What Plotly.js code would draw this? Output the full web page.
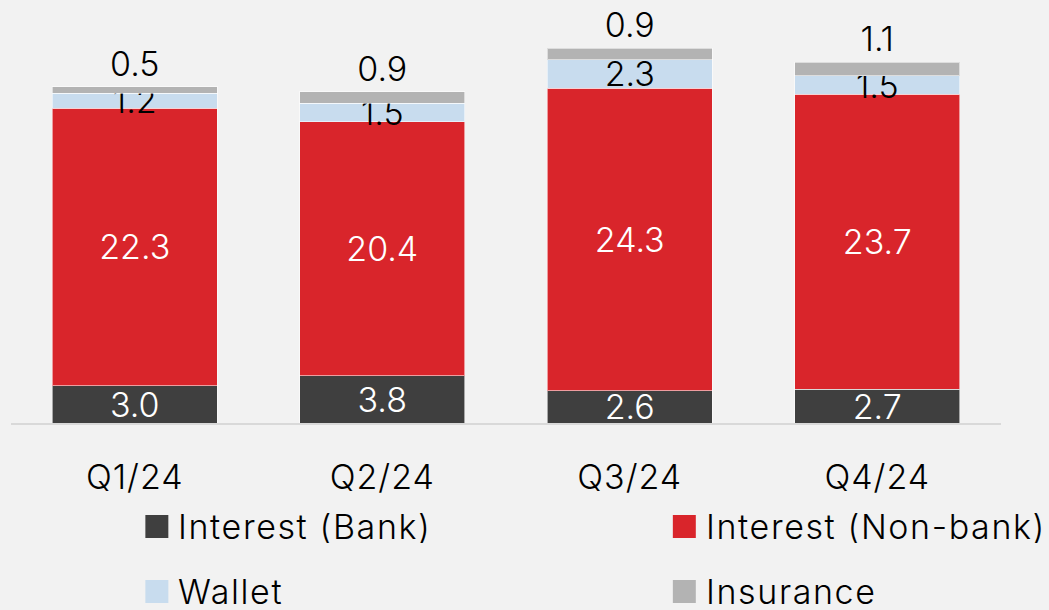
<!DOCTYPE html>
<html>
<head>
<meta charset="utf-8">
<script src="https://cdn.plot.ly/plotly-3.0.1.min.js"></script>
<style>html,body{margin:0;padding:0;background:#f2f2f2;}#chart{width:1049px;height:610px;}</style>
</head>
<body>
<div id="chart"></div>
<script>
const categories = ['Q1/24', 'Q2/24', 'Q3/24', 'Q4/24'];
const interestBank = [3.0, 3.8, 2.6, 2.7];
const interestNonBank = [22.3, 20.4, 24.3, 23.7];
const wallet = [1.2, 1.5, 2.3, 1.5];
const insurance = [0.5, 0.9, 0.9, 1.1];
const seriesNames = ['Interest (Bank)', 'Interest (Non-bank)', 'Wallet', 'Insurance'];
const seriesColors = ['#3f3f3f', '#d9252b', '#c8dcee', '#b3b3b3'];
const labelColors = ['#ffffff', '#ffffff', '#000000', '#000000'];

const FONT = 'Inter, "Open Sans", sans-serif';
const W = 1049, H = 610;
const M = {l: 10.5, r: 47.5, t: 10, b: 187};
const PW = W - M.l - M.r, PH = H - M.t - M.b;
const px2x = p => (p - M.l) / PW;
const px2y = p => (H - M.b - p) / PH;
const spaced = (s, sp) => '<span style="letter-spacing:' + sp + 'px">' + s + '</span>';

const values = [interestBank, interestNonBank, wallet, insurance];
const traces = values.map((v, i) => ({
  type: 'bar',
  x: categories,
  y: v,
  name: seriesNames[i],
  marker: {color: seriesColors[i], line: {color: 'rgba(255,255,255,0.55)', width: 1}},
  texttemplate: '%{y:.1f}',
  textposition: i === 3 ? 'outside' : 'inside',
  insidetextanchor: 'middle',
  textangle: 0,
  constraintext: 'none',
  cliponaxis: false,
  textfont: {family: FONT, size: 34, color: labelColors[i], weight: 300},
  hoverinfo: 'skip'
}));

// custom legend (2 columns x 2 rows)
const legendPos = [
  {sx: 145, sy: 515},
  {sx: 673, sy: 515},
  {sx: 145, sy: 580},
  {sx: 673, sy: 580}
];
const shapes = [];
const annotations = [];
seriesNames.forEach((n, i) => {
  const p = legendPos[i];
  shapes.push({type: 'rect', xref: 'paper', yref: 'paper',
    x0: px2x(p.sx), x1: px2x(p.sx + 23), y0: px2y(p.sy + 23), y1: px2y(p.sy),
    fillcolor: seriesColors[i], line: {width: 0}});
  annotations.push({xref: 'paper', yref: 'paper', x: px2x(p.sx + 31), y: px2y(p.sy + 11),
    xanchor: 'left', yanchor: 'middle', showarrow: false, text: spaced(n, 1.6),
    height: 34, valign: 'middle',
    font: {family: FONT, size: 34, color: '#000000', weight: 300}});
});

const layout = {
  width: W, height: H,
  margin: M,
  paper_bgcolor: '#f2f2f2',
  plot_bgcolor: '#f2f2f2',
  barmode: 'stack',
  bargap: 0.335,
  showlegend: false,
  xaxis: {
    showline: true, linecolor: '#d9d9d9', linewidth: 2,
    ticks: '', showgrid: false, zeroline: false,
    tickmode: 'array', tickvals: categories, ticktext: categories.map(c => spaced(c, 1)),
    ticklabelstandoff: 23,
    tickfont: {family: FONT, size: 34, color: '#000000', weight: 300},
    fixedrange: true
  },
  yaxis: {
    range: [0, PH / 12.445],
    visible: false, showgrid: false, zeroline: false, fixedrange: true
  },
  shapes: shapes,
  annotations: annotations,
  uniformtext: {mode: false}
};

Plotly.newPlot('chart', traces, layout, {staticPlot: true, displayModeBar: false});
</script>
</body>
</html>
